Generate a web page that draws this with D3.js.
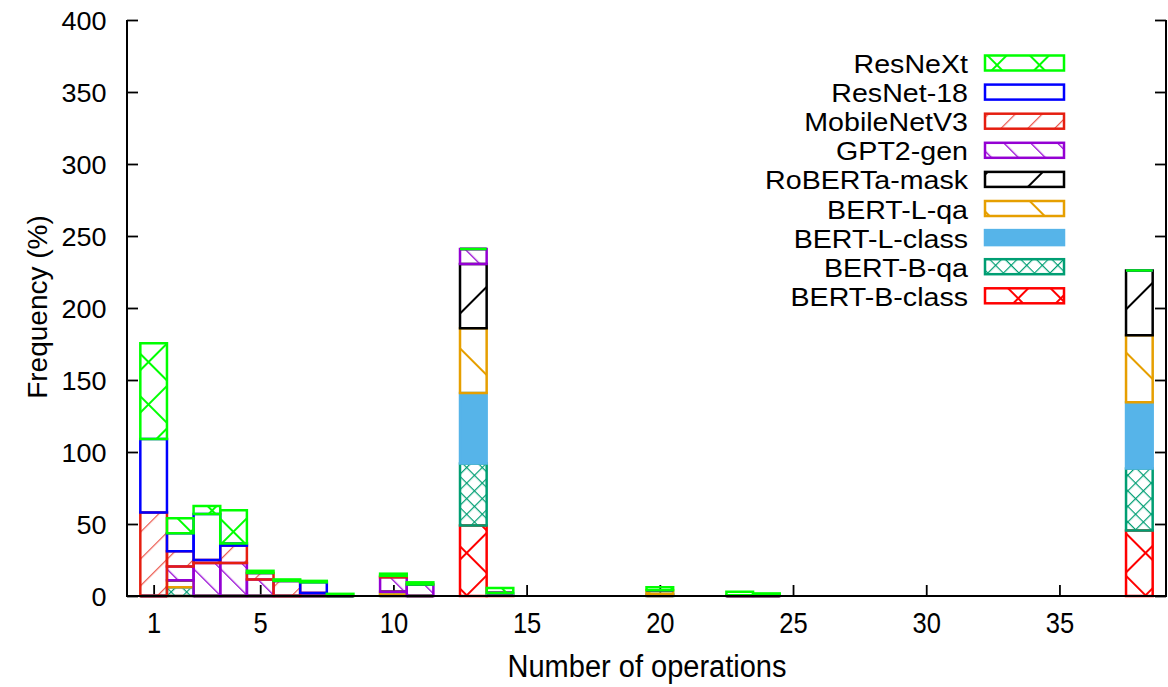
<!DOCTYPE html>
<html>
<head>
<meta charset="utf-8">
<script src="https://cdn.jsdelivr.net/npm/d3@7"></script>
<style>
  body { margin: 0; background: #fff; }
  text { font-family: "Liberation Sans", Arial, Helvetica, sans-serif; fill: #000; }
</style>
</head>
<body>
<svg id="chart" width="1168" height="687"></svg>
<script>
// number of operations that have at least one non-empty bar
const ops = [1, 2, 3, 4, 5, 6, 7, 8, 10, 11, 13, 14, 20, 23, 24, 38];

// frequency (%) per model, one value per entry of ops (stack order, bottom first)
const bertBClass  = [0, 0, 0, 0, 0, 0, 0, 0, 0, 0, 49, 0.5, 0, 0, 0, 45.5];
const bertBQa     = [0, 6, 0, 0, 0, 0, 0, 0, 1, 0, 43, 0, 1, 0, 0, 43];
const bertLClass  = [0, 0, 0, 0, 0, 0, 0, 0, 0, 0, 49, 1.5, 0.5, 0, 0, 46];
const bertLQa     = [0, 5, 0, 0, 0, 0, 0, 0, 2, 0, 45, 0, 2.5, 0, 0, 46.5];
const robertaMask = [0, 0, 0, 0, 0, 0, 0, 0, 0, 0, 44.5, 0, 0, 0, 0, 45];
const gpt2Gen     = [0, 9.5, 23, 23, 11.5, 0, 2, 0, 10, 8, 10.5, 0, 0, 0.5, 0.3, 0];
const mobileNetV3 = [58, 10.5, 2, 12, 4.5, 10.5, 0, 0, 1, 0, 0, 0, 0, 0, 0, 0];
const resNet18    = [51, 12.5, 32, 1.5, 0, 0, 7.5, 0, 0, 0, 0, 0, 0, 0, 0, 0];
const resNeXt     = [66.5, 10.5, 5.5, 23, 1.5, 1, 1, 1.5, 1.5, 1.5, 0, 3.5, 2, 2.5, 1.5, 0];

const seriesNames = ["BERT-B-class", "BERT-B-qa", "BERT-L-class", "BERT-L-qa",
  "RoBERTa-mask", "GPT2-gen", "MobileNetV3", "ResNet-18", "ResNeXt"];
const seriesValues = [bertBClass, bertBQa, bertLClass, bertLQa,
  robertaMask, gpt2Gen, mobileNetV3, resNet18, resNeXt];

const xTicks = [1, 5, 10, 15, 20, 25, 30, 35];
const yTicks = [0, 50, 100, 150, 200, 250, 300, 350, 400];

// look of each series: border colour and fill pattern
const looks = {
  "BERT-B-class": { color: "#ff0000", pat: "cross", gap: 30, sw: 2 },
  "BERT-B-qa":    { color: "#009e73", pat: "cross", gap: 11, sw: 1.2 },
  "BERT-L-class": { color: "#56b4e9", pat: "solid" },
  "BERT-L-qa":    { color: "#e69f00", pat: "back", gap: 39, sw: 2 },
  "RoBERTa-mask": { color: "#000000", pat: "fwd", gap: 39, sw: 2 },
  "GPT2-gen":     { color: "#9400d3", pat: "back", gap: 19, sw: 1.3 },
  "MobileNetV3":  { color: "#e51e10", pat: "fwd", gap: 19, sw: 1.2, op: 0.75 },
  "ResNet-18":    { color: "#0000ff", pat: "none" },
  "ResNeXt":      { color: "#00ff00", pat: "cross", gap: 30, sw: 2 }
};

const svg = d3.select("#chart");
const x = d3.scaleLinear().domain([0, 39]).range([127, 1166]);
const y = d3.scaleLinear().domain([0, 400]).range([596, 20]);
const barW = x(1) - x(0);

// patterns
const defs = svg.append("defs");
seriesNames.forEach((name, i) => {
  const lk = looks[name];
  if (lk.pat === "solid" || lk.pat === "none") return;
  const rot = lk.pat === "back" ? -45 : 45;
  const p = defs.append("pattern")
    .attr("id", "pat" + i)
    .attr("patternUnits", "userSpaceOnUse")
    .attr("width", lk.gap).attr("height", lk.gap)
    .attr("patternTransform", `rotate(${rot})`);
  p.append("rect").attr("x", 0).attr("y", 0)
    .attr("width", lk.sw).attr("height", lk.gap)
    .attr("fill", lk.color).attr("fill-opacity", lk.op || 1);
  if (lk.pat === "cross") {
    p.append("rect").attr("x", 0).attr("y", 0)
      .attr("width", lk.gap).attr("height", lk.sw)
      .attr("fill", lk.color).attr("fill-opacity", lk.op || 1);
  }
});

function fillOf(name) {
  const lk = looks[name];
  if (lk.pat === "solid") return lk.color;
  if (lk.pat === "none") return "none";
  return `url(#pat${seriesNames.indexOf(name)})`;
}

// ticks (behind the bars)
svg.append("g")
  .attr("transform", "translate(127,0)")
  .call(d3.axisLeft(y).tickValues(yTicks).tickSize(-11).tickPadding(19))
  .call(g => g.select(".domain").remove())
  .call(g => g.selectAll("line").attr("stroke", "#000").attr("stroke-width", 1.8))
  .call(g => g.selectAll("text").style("font-size", "25px")
    .attr("transform", "scale(1.08,1)").attr("dy", "0.36em"));

svg.append("g")
  .attr("transform", "translate(1166,0)")
  .call(d3.axisRight(y).tickValues(yTicks).tickSize(-11).tickFormat(""))
  .call(g => g.select(".domain").remove())
  .call(g => g.selectAll("line").attr("stroke", "#000").attr("stroke-width", 1.8));

svg.append("g")
  .attr("transform", "translate(0,596)")
  .call(d3.axisBottom(x).tickValues(xTicks).tickSize(-11).tickPadding(16))
  .call(g => g.select(".domain").remove())
  .call(g => g.selectAll("line").attr("stroke", "#000").attr("stroke-width", 1.8))
  .call(g => g.selectAll("text").style("font-size", "29px")
    .attr("transform", "scale(0.88,1)"));

// stacked bars
const table = ops.map((o, i) => {
  const row = { op: o };
  seriesNames.forEach((n, j) => { row[n] = seriesValues[j][i]; });
  return row;
});
const stacked = d3.stack().keys(seriesNames)(table);

stacked.forEach(layer => {
  const lk = looks[layer.key];
  svg.append("g")
    .selectAll("path")
    .data(layer)
    .enter()
    .append("path")
    .attr("d", d => {
      const x0 = x(d.data.op) - barW / 2, x1 = x(d.data.op) + barW / 2;
      return `M${x0},${y(d[0])}H${x1}V${y(d[1])}H${x0}Z`;
    })
    .attr("fill", fillOf(layer.key))
    .attr("stroke", lk.color)
    .attr("stroke-width", 2.5);
});

// border: left, bottom, right
svg.append("path")
  .attr("d", `M${x(0)},${y(400)}V${y(0)}H${x(39)}V${y(400)}`)
  .attr("fill", "none").attr("stroke", "#000").attr("stroke-width", 2);

// legend
const legendNames = seriesNames.slice().reverse();
const leg = svg.append("g");
legendNames.forEach((name, i) => {
  const top = 55.5 + i * 29.1;
  leg.append("rect")
    .attr("x", 985).attr("y", top).attr("width", 79).attr("height", 15)
    .attr("fill", fillOf(name))
    .attr("stroke", looks[name].color)
    .attr("stroke-width", 2.5);
  leg.append("text")
    .attr("transform", `translate(968,${top + 17.5}) scale(1.1,1)`)
    .attr("text-anchor", "end")
    .style("font-size", "26px")
    .text(name);
});

// axis titles
svg.append("text")
  .attr("x", 647).attr("y", 677)
  .attr("text-anchor", "middle")
  .attr("textLength", 279).attr("lengthAdjust", "spacingAndGlyphs")
  .style("font-size", "31px")
  .text("Number of operations");

svg.append("text")
  .attr("transform", "translate(47,307) rotate(-90)")
  .attr("text-anchor", "middle")
  .style("font-size", "28px")
  .text("Frequency (%)");
</script>
</body>
</html>
